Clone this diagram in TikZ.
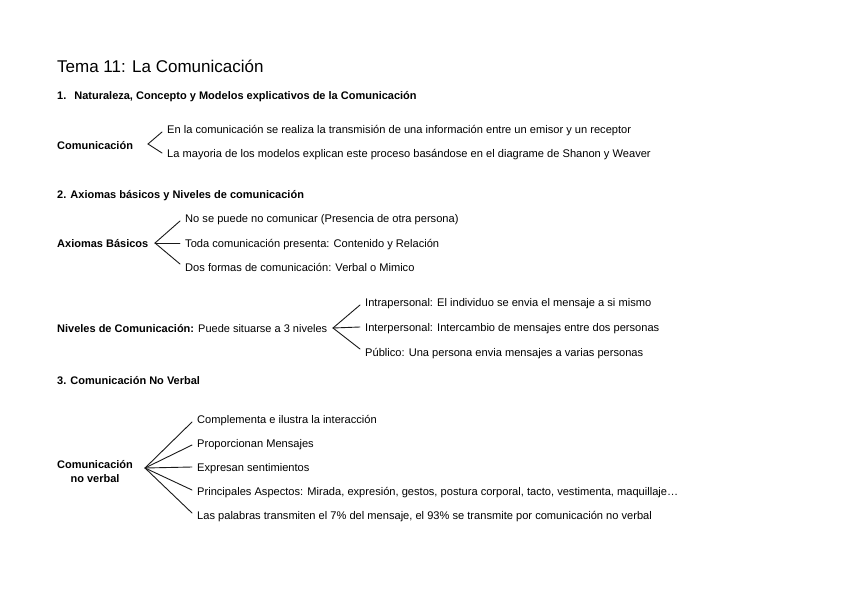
\documentclass[tikz,border=0pt]{standalone}
\usepackage{fontspec}
\setmainfont{Liberation Sans}
\usetikzlibrary{positioning}
\tikzset{
  titletxt/.style={anchor=base west, inner sep=0pt, font=\fontsize{17}{20}\selectfont},
  headtxt/.style={anchor=base west, inner sep=0pt, font=\bfseries\fontsize{11}{13}\selectfont},
  roottxt/.style={anchor=west, inner sep=0pt, text height=9.4pt, text depth=0.4pt, font=\bfseries\fontsize{11}{13}\selectfont},
  leaftxt/.style={anchor=west, inner xsep=5pt, inner ysep=0pt, text height=9.4pt, text depth=0.4pt, font=\fontsize{11.1}{13}\selectfont},
  branch/.style={line width=0.9pt, black!90, line cap=round},
}

\begin{document}
\begin{tikzpicture}[x=1pt, y=-1pt]
    \useasboundingbox (0,0) rectangle (848,599);
    % titles
    \node[titletxt] (tema) at (57,73) {Tema 11: La Comunicación};
    \node[headtxt] (sec1) at (57,100) {1.\hspace{8pt}Naturaleza, Concepto y Modelos explicativos de la Comunicación};
    \node[headtxt] (sec2) at (57,198) {2. Axiomas básicos y Niveles de comunicación};
    \node[headtxt] (sec3) at (57,384) {3. Comunicación No Verbal};
    % 1. comunicacion
    \node[roottxt] (com) at (57,145) {Comunicación};
    \coordinate (v1) at (148,144);
    \foreach \i/\yy/\dy/\txt in {
      1/129/3/{En la comunicación se realiza la transmisión de una información entre un emisor y un receptor},
      2/153/0/{La mayoria de los modelos explican este proceso basándose en el diagrame de Shanon y Weaver}} {
      \node[leaftxt] (c1-\i) at (162,\yy) {\txt};
      \draw[branch] (v1) -- ([yshift=-\dy pt]c1-\i.west);
    }
    % 2. axiomas
    \node[roottxt] (axi) at (57,243) {Axiomas Básicos};
    \coordinate (v2) at (155,243);
    \foreach \i/\yy/\dy/\txt in {
      1/218/3/{No se puede no comunicar (Presencia de otra persona)},
      2/243/0/{Toda comunicación presenta: Contenido y Relación},
      3/267/-3/{Dos formas de comunicación: Verbal o Mimico}} {
      \node[leaftxt] (c2-\i) at (180,\yy) {\txt};
      \draw[branch] (v2) -- ([yshift=-\dy pt]c2-\i.west);
    }
    % niveles
    \node[roottxt] (niv) at (57,328) {Niveles de Comunicación: \mdseries Puede situarse a 3 niveles};
    \coordinate (v3) at (333,328);
    \foreach \i/\yy/\dy/\txt in {
      1/302/3/{Intrapersonal: El individuo se envia el mensaje a si mismo},
      2/327/0/{Interpersonal: Intercambio de mensajes entre dos personas},
      3/352/-3/{Público: Una persona envia mensajes a varias personas}} {
      \node[leaftxt] (c3-\i) at (360,\yy) {\txt};
      \draw[branch] (v3) -- ([yshift=-\dy pt]c3-\i.west);
    }
    % 3. no verbal
    \node[roottxt, anchor=center, align=center, text height=, text depth=, font=\bfseries\fontsize{11}{14}\selectfont] (nov) at (95,472) {Comunicación\\no verbal};
    \coordinate (v4) at (145,468);
    \foreach \i/\yy/\dy/\txt in {
      1/419/3/{Complementa e ilustra la interacción},
      2/443/2/{Proporcionan Mensajes},
      3/467/0/{Expresan sentimientos},
      4/491/-1/{Principales Aspectos: Mirada, expresión, gestos, postura corporal, tacto, vestimenta, maquillaje…},
      5/515/-2/{Las palabras transmiten el 7\% del mensaje, el 93\% se transmite por comunicación no verbal}} {
      \node[leaftxt] (c4-\i) at (192,\yy) {\txt};
      \draw[branch] (v4) -- ([yshift=-\dy pt]c4-\i.west);
    }
\end{tikzpicture}
\end{document}
